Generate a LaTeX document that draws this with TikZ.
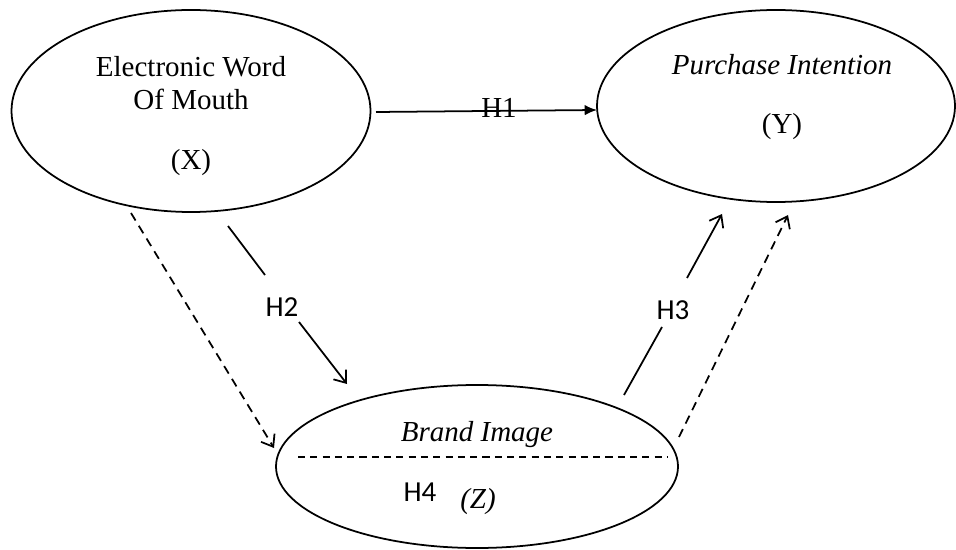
\documentclass[tikz,border=0pt]{standalone}
\usepackage{fontspec}
\setmainfont{Liberation Serif}
\newfontfamily\hfont{Carlito}
\usetikzlibrary{shapes.geometric,arrows.meta}
\begin{document}
\begin{tikzpicture}[x=0.02cm,y=-0.02cm,
  latent/.style={draw,ellipse,line width=1pt,inner sep=0pt},
  txt/.style={inner sep=0pt,font=\fontsize{16.5}{19}\selectfont},
  hlab/.style={inner sep=0pt,font=\hfont\fontsize{16.5}{19}\selectfont},
  solidarr/.style={line width=1pt,-{Straight Barb[length=6pt,width=9pt,line width=1pt]}},
  dasharr/.style={line width=1pt,dash pattern=on 5pt off 3.5pt,-{Straight Barb[length=6pt,width=9pt,line width=1pt]}},
  h1arr/.style={line width=1pt,-{Latex[length=7pt,width=6pt]}}]
\useasboundingbox (0,0) rectangle (956,550);
% ellipses
\node[latent,minimum width=359*0.02cm,minimum height=202*0.02cm] (X) at (191,111) {};
\node[latent,minimum width=358*0.02cm,minimum height=192*0.02cm] (Y) at (776,106) {};
\node[latent,minimum width=402*0.02cm,minimum height=163*0.02cm] (Z) at (477,466.5) {};
% texts
\node[txt] (xt1) at (191,67) {Electronic Word};
\node[txt] (xt2) at (191,99) {Of Mouth};
\node[txt] (xt3) at (191,163) {(X)};
\node[txt] (yt1) at (782,65) {\itshape Purchase Intention};
\node[txt] (yt2) at (782,127) {(Y)};
\node[txt] (zt1) at (477,435) {\itshape Brand Image};
\node[txt] (zt2) at (478,502) {\itshape (Z)};
\node[hlab] (h4) at (420,492) {H4};
% dashed divider
\coordinate (dl) at (298,457);
\coordinate (dr) at (667,457);
\draw[line width=1pt,dash pattern=on 4pt off 3pt] (dl) -- (dr);
% H1
\coordinate (h1s) at (376,112);
\coordinate (h1e) at (597,110);
\draw[h1arr] (h1s) -- (h1e);
\node[txt] (h1) at (499,108) {H1};
% H2
\coordinate (h2s) at (228,226);
\coordinate (h2a) at (265,275);
\coordinate (h2b) at (299,322);
\coordinate (h2e) at (347,384);
\node[hlab] (h2) at (282,307) {H2};
\draw[line width=1pt] (h2s) -- (h2a);
\draw[solidarr] (h2b) -- (h2e);
% H3
\coordinate (h3s) at (624,395);
\coordinate (h3a) at (662,327);
\coordinate (h3b) at (687,278);
\coordinate (h3e) at (722,214);
\node[hlab] (h3) at (673,310) {H3};
\draw[line width=1pt] (h3s) -- (h3a);
\draw[solidarr] (h3b) -- (h3e);
% dashed arrows
\coordinate (d1s) at (131,213);
\coordinate (d1e) at (274,448);
\draw[dasharr] (d1s) -- (d1e);
\coordinate (d2s) at (679,437);
\coordinate (d2e) at (788,215);
\draw[dasharr] (d2s) -- (d2e);
\end{tikzpicture}
\end{document}
